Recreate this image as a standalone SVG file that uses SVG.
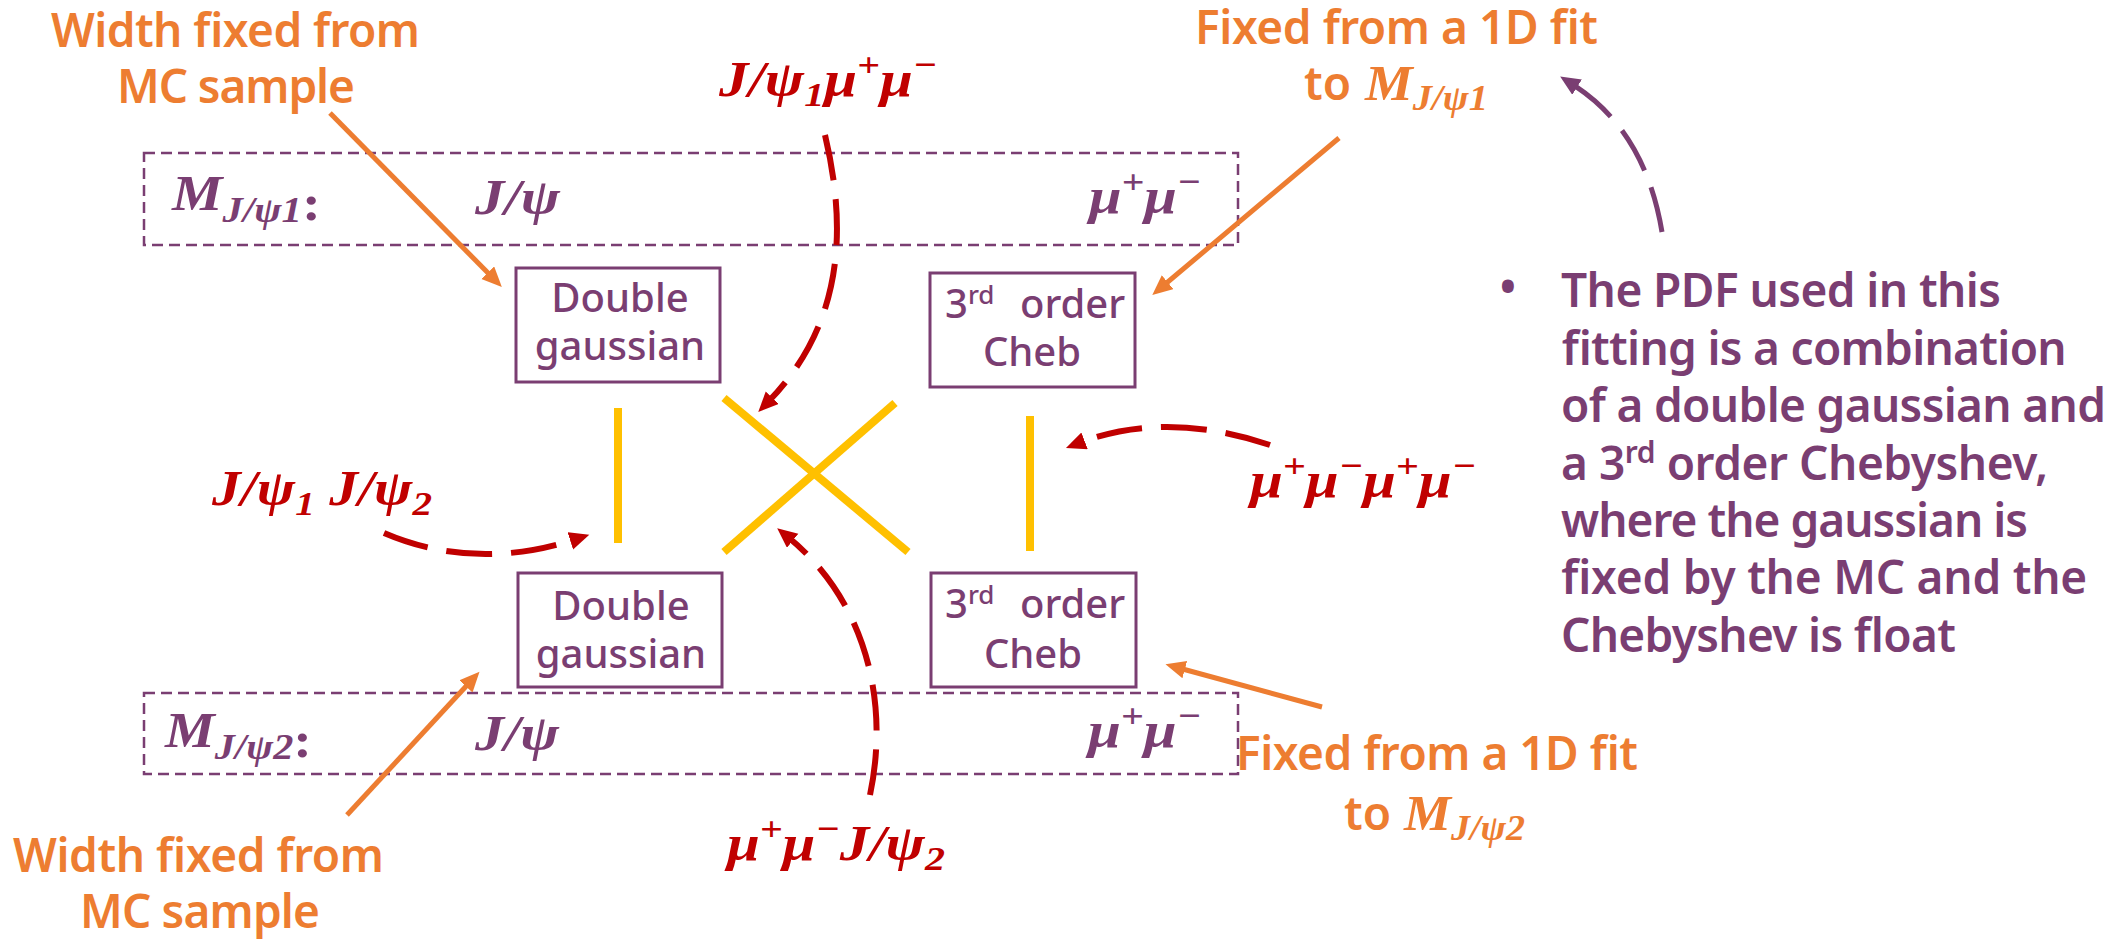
<svg xmlns="http://www.w3.org/2000/svg" width="2125" height="939" viewBox="0 0 2125 939">
<defs>
<style>
.sans{font-family:"Noto Sans","Liberation Sans",sans-serif;font-weight:600;}
.orange{fill:#ED7D31;font-size:46px;}
.box{fill:#FFFFFF;stroke:#7A3E72;stroke-width:3;}
.dbox{fill:none;stroke:#7A3E72;stroke-width:2.5;stroke-dasharray:11 6;}
.boxt{font-size:40px;fill:#7A3E72;text-anchor:middle;font-weight:500;}
.math{font-family:"Liberation Serif","DejaVu Serif",serif;font-style:italic;font-weight:bold;font-size:50px;}
.pm{fill:#7A3E72;}
.red{fill:#C00000;}
.yl{stroke:#FFC000;stroke-width:8;fill:none;}
.oa{stroke:#ED7D31;stroke-width:5;fill:none;}
.ra{stroke:#C00000;stroke-width:6;fill:none;stroke-dasharray:46 19;}
.pa{stroke:#7A3E72;stroke-width:5;fill:none;stroke-dasharray:46 18;}
.bul{font-size:46px;fill:#7A3E72;}
</style>
<marker id="ao" markerUnits="userSpaceOnUse" markerWidth="22" markerHeight="20" refX="6" refY="9" orient="auto"><path d="M0,0 L20,9 L0,18 z" fill="#ED7D31"/></marker>
<marker id="ar" markerUnits="userSpaceOnUse" markerWidth="22" markerHeight="20" refX="6" refY="9" orient="auto"><path d="M0,0 L20,9 L0,18 z" fill="#C00000"/></marker>
<marker id="ap" markerUnits="userSpaceOnUse" markerWidth="22" markerHeight="20" refX="6" refY="9" orient="auto"><path d="M0,0 L20,9 L0,18 z" fill="#7A3E72"/></marker>
</defs>
<rect width="2125" height="939" fill="#FFFFFF"/>

<g id="mass-box-1">
<rect class="dbox" x="144" y="153" width="1094" height="92"/>
<text class="math pm" x="172" y="210" textLength="149" lengthAdjust="spacingAndGlyphs">M<tspan font-size="36" dy="12">J/ψ1</tspan><tspan dy="-2" font-style="normal">:</tspan></text>
<text class="math pm" x="475" y="214" textLength="85" lengthAdjust="spacingAndGlyphs">J/ψ</text>
<text class="math pm" x="1089" y="213" textLength="112" lengthAdjust="spacingAndGlyphs">μ<tspan dy="-20" font-size="34">+</tspan><tspan dy="20">μ</tspan><tspan dy="-20" font-size="34">−</tspan></text>
</g>

<g id="mass-box-2">
<rect class="dbox" x="144" y="693" width="1094" height="81"/>
<text class="math pm" x="165" y="747" textLength="147" lengthAdjust="spacingAndGlyphs">M<tspan font-size="36" dy="12">J/ψ2</tspan><tspan dy="-2" font-style="normal">:</tspan></text>
<text class="math pm" x="475" y="750" textLength="84" lengthAdjust="spacingAndGlyphs">J/ψ</text>
<text class="math pm" x="1088" y="747" textLength="113" lengthAdjust="spacingAndGlyphs">μ<tspan dy="-20" font-size="34">+</tspan><tspan dy="20">μ</tspan><tspan dy="-20" font-size="34">−</tspan></text>
</g>

<g id="double-gaussian-1">
<rect class="box" x="516" y="268" width="204" height="114"/>
<text class="sans boxt" x="620" y="312">Double</text>
<text class="sans boxt" x="620" y="360">gaussian</text>
</g>

<g id="cheb-1">
<rect class="box" x="930" y="273" width="205" height="114"/>
<text class="sans boxt" x="945" y="318" style="text-anchor:start">3<tspan font-size="26" dy="-14">rd</tspan><tspan x="1020" dy="14">order</tspan></text>
<text class="sans boxt" x="1032" y="366">Cheb</text>
</g>

<g id="double-gaussian-2">
<rect class="box" x="518" y="573" width="204" height="114"/>
<text class="sans boxt" x="621" y="620">Double</text>
<text class="sans boxt" x="621" y="668">gaussian</text>
</g>

<g id="cheb-2">
<rect class="box" x="931" y="573" width="205" height="114"/>
<text class="sans boxt" x="945" y="618" style="text-anchor:start">3<tspan font-size="26" dy="-14">rd</tspan><tspan x="1020" dy="14">order</tspan></text>
<text class="sans boxt" x="1033" y="668">Cheb</text>
</g>

<g id="pairing-lines">
<line class="yl" x1="618" y1="408" x2="618" y2="543"/>
<line class="yl" x1="724" y1="398" x2="908" y2="552"/>
<line class="yl" x1="895" y1="403" x2="724" y2="552"/>
<line class="yl" x1="1030" y1="416" x2="1030" y2="551"/>
</g>

<g id="connectors">
<line class="oa" x1="330" y1="113" x2="492" y2="277" marker-end="url(#ao)"/>
<line class="oa" x1="1339" y1="138" x2="1163" y2="286" marker-end="url(#ao)"/>
<line class="oa" x1="347" y1="815" x2="470" y2="682" marker-end="url(#ao)"/>
<line class="oa" x1="1322" y1="707" x2="1179" y2="668" marker-end="url(#ao)"/>
<path class="ra" d="M825,135 C850,240 838,330 768,402" marker-end="url(#ar)"/>
<path class="ra" d="M384,533 Q475,572 576,539" marker-end="url(#ar)"/>
<path class="ra" d="M1270,445 Q1165,410 1079,443" marker-end="url(#ar)"/>
<path class="ra" d="M870,795 C890,700 865,600 788,537" marker-end="url(#ar)"/>
<path class="pa" d="M1662,232 Q1645,130 1572,84" marker-end="url(#ap)"/>
</g>

<g id="label-width-top">
<text class="sans orange" x="51" y="47" textLength="369">Width fixed from</text>
<text class="sans orange" x="117" y="103" textLength="238">MC sample</text>
</g>
<g id="label-width-bottom">
<text class="sans orange" x="13" y="872" textLength="371">Width fixed from</text>
<text class="sans orange" x="80" y="928" textLength="240">MC sample</text>
</g>
<g id="label-fixed-top">
<text class="sans orange" x="1195" y="44" textLength="403">Fixed from a 1D fit</text>
<text class="sans orange" x="1304" y="100">to</text>
<text class="math" x="1365" y="100" fill="#ED7D31" font-weight="normal" textLength="123" lengthAdjust="spacingAndGlyphs">M<tspan font-size="36" dy="10">J/ψ1</tspan></text>
</g>
<g id="label-fixed-bottom">
<text class="sans orange" x="1236" y="770" textLength="402">Fixed from a 1D fit</text>
<text class="sans orange" x="1344" y="830">to</text>
<text class="math" x="1404" y="830" fill="#ED7D31" font-weight="normal" textLength="121" lengthAdjust="spacingAndGlyphs">M<tspan font-size="36" dy="10">J/ψ2</tspan></text>
</g>

<g id="label-red-top">
<text class="math red" x="719" y="96" textLength="218" lengthAdjust="spacingAndGlyphs">J/ψ<tspan font-size="34" dy="10">1</tspan><tspan dy="-10">μ</tspan><tspan dy="-20" font-size="34">+</tspan><tspan dy="20">μ</tspan><tspan dy="-20" font-size="34">−</tspan></text>
</g>
<g id="label-red-left">
<text class="math red" x="212" y="505" textLength="220" lengthAdjust="spacingAndGlyphs">J/ψ<tspan font-size="34" dy="10">1</tspan><tspan dy="-10"> J/ψ</tspan><tspan font-size="34" dy="10">2</tspan></text>
</g>
<g id="label-red-right">
<text class="math red" x="1250" y="497" textLength="226" lengthAdjust="spacingAndGlyphs">μ<tspan dy="-20" font-size="34">+</tspan><tspan dy="20">μ</tspan><tspan dy="-20" font-size="34">−</tspan><tspan dy="20">μ</tspan><tspan dy="-20" font-size="34">+</tspan><tspan dy="20">μ</tspan><tspan dy="-20" font-size="34">−</tspan></text>
</g>
<g id="label-red-bottom">
<text class="math red" x="727" y="860" textLength="218" lengthAdjust="spacingAndGlyphs">μ<tspan dy="-20" font-size="34">+</tspan><tspan dy="20">μ</tspan><tspan dy="-20" font-size="34">−</tspan><tspan dy="20">J/ψ</tspan><tspan font-size="34" dy="10">2</tspan></text>
</g>

<g id="note">
<text class="sans bul" x="1508" y="303" text-anchor="middle">•</text>
<text class="sans bul" x="1561" y="307" textLength="440">The PDF used in this</text>
<text class="sans bul" x="1561" y="365" textLength="505">fitting is a combination</text>
<text class="sans bul" x="1561" y="422" textLength="545">of a double gaussian and</text>
<text class="sans bul" x="1561" y="480" textLength="487">a 3<tspan font-size="30" dy="-17">rd</tspan><tspan dy="17"> order Chebyshev,</tspan></text>
<text class="sans bul" x="1561" y="537" textLength="467">where the gaussian is</text>
<text class="sans bul" x="1561" y="594" textLength="526">fixed by the MC and the</text>
<text class="sans bul" x="1561" y="652" textLength="395">Chebyshev is float</text>
</g>
</svg>
